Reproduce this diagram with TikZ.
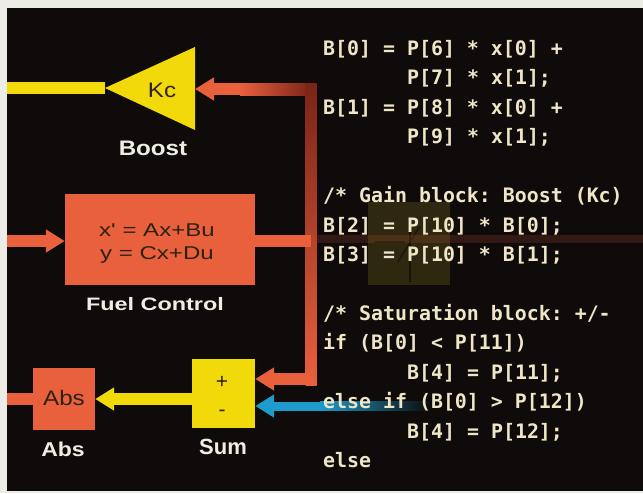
\documentclass[tikz,border=0pt]{standalone}
\usepackage{fontspec}
\setmainfont{Liberation Sans}
\newfontfamily\codefont{DejaVu Sans Mono}
\newfontfamily\wideA[FakeStretch=1.15]{Liberation Sans}
\newfontfamily\wideB[FakeStretch=1.3]{Liberation Sans}
\usetikzlibrary{arrows.meta}
\definecolor{paper}{HTML}{ECEDE6}
\definecolor{bgc}{HTML}{0E0B0A}
\definecolor{yel}{HTML}{F2DA0A}
\definecolor{org}{HTML}{E9603D}
\definecolor{dred}{HTML}{7A2418}
\definecolor{blu}{HTML}{1E9ACB}
\definecolor{codec}{HTML}{EEE6C6}
\definecolor{labc}{HTML}{EFEEE4}
\definecolor{dtext}{HTML}{2B2212}
\definecolor{ghost}{HTML}{2E2810}
\tikzset{
  codeline/.style={anchor=base west, inner sep=0pt, text=codec,
    font=\codefont\bfseries\fontsize{19.9}{24}\selectfont\frenchspacing},
  lab/.style={anchor=base, inner sep=0pt, text=labc},
  intext/.style={anchor=base, inner sep=0pt, text=dtext},
  oline/.style={draw=org, line width=12pt},
  yline/.style={draw=yel, line width=12pt},
  bline/.style={draw=blu, line width=9pt},
  tip/.style={-{Triangle[length=19pt,width=22pt]}},
}
\begin{document}
\begin{tikzpicture}[x=1pt,y=-1pt]
\useasboundingbox (0,0) rectangle (643,493);
\fill[paper] (0,0) rectangle (643,493);
\fill[bgc] (7,8) rectangle (643,491);

% ghost saturation block (faint, behind text)
\fill[ghost] (368,202) rectangle (450,285);
\draw[bgc!70!ghost, line width=1.2pt] (375,242) -- (405,242);
\draw[bgc!70!ghost, line width=1.2pt] (410,228) -- (410,282);
\draw[bgc!70!ghost, line width=1.2pt] (398,262) -- (420,226);
\fill[org, opacity=0.16] (316,235) rectangle (643,243);

% coordinates
\coordinate (leftK) at (7,88);
\coordinate (leftF) at (7,241);
\coordinate (leftA) at (7,399);
\coordinate (vtop) at (311,89);
\coordinate (vmid) at (311,241);
\coordinate (vbot) at (311,379);
\coordinate (bstart) at (330,406);

% blocks
\fill[yel] (195,47) -- (195,130) -- (105,88) -- cycle;
\coordinate (kctip) at (105,88);
\coordinate (kcin) at (195,89);
\node[intext, font=\wideA\fontsize{21}{24}\selectfont] (kc) at (162,97) {Kc};
\node[lab, font=\wideA\bfseries\fontsize{21}{24}\selectfont] (boost) at (153,155) {Boost};

\node[fill=org, minimum width=190pt, minimum height=91pt, inner sep=0pt] (fuel) at (160,239.5) {};
\node[intext, font=\wideB\fontsize{18.5}{22}\selectfont] (eq1) at (157,236) {x' = Ax+Bu};
\node[intext, font=\wideB\fontsize{18.5}{22}\selectfont] (eq2) at (157,259) {y = Cx+Du};
\node[lab, font=\wideB\bfseries\fontsize{18}{22}\selectfont] (fuellab) at (155,310) {Fuel Control};

\node[fill=yel, minimum width=63pt, minimum height=69pt, inner sep=0pt] (sum) at (223.5,393.5) {};
\node[intext, font=\fontsize{21}{24}\selectfont] (plus) at (222,388) {+};
\node[intext, font=\fontsize{21}{24}\selectfont] (minus) at (222,416) {-};
\node[lab, font=\bfseries\fontsize{22}{24}\selectfont] (sumlab) at (223,454) {Sum};

\node[fill=org, minimum width=62pt, minimum height=62pt, inner sep=0pt] (abs) at (64,399) {};
\node[intext, font=\wideA\fontsize{21}{24}\selectfont] (abstext) at (64,405) {Abs};
\node[lab, font=\wideA\bfseries\fontsize{20}{24}\selectfont] (abslab) at (63,456) {Abs};

% connectors
\draw[yline] (kctip) -- (leftK);
\draw[oline, tip] (vtop) -- (kcin);
\shade[left color=org, right color=dred] (240,83) rectangle (311,95);
\shade[top color=dred, bottom color=org] (305.5,83) rectangle (316.5,385);
\draw[oline, tip] (leftF) -- (fuel.west |- leftF);
\draw[oline] (fuel.east |- vmid) -- (vmid);
\draw[oline, tip] (vbot) -- (sum.east |- vbot);
\draw[bline, tip] (bstart) -- (sum.east |- bstart);
\shade[left color=blu, right color=bgc] (320,401.5) rectangle (430,410.5);
\draw[yline, tip] (sum.west |- leftA) -- (abs.east |- leftA);
\draw[oline] (leftA) -- (abs.west |- leftA);

% code
\node[codeline] (c1) at (323,55) {B[0] = P[6] * x[0] +};
\node[codeline] (c2) at (323,84.5) {\hspace*{84pt}P[7] * x[1];};
\node[codeline] (c3) at (323,114) {B[1] = P[8] * x[0] +};
\node[codeline] (c4) at (323,143.5) {\hspace*{84pt}P[9] * x[1];};
\node[codeline] (c5) at (323,202.5) {/* Gain block: Boost (Kc)};
\node[codeline] (c6) at (323,232) {B[2] = P[10] * B[0];};
\node[codeline] (c7) at (323,261.5) {B[3] = P[10] * B[1];};
\node[codeline] (c8) at (323,320) {/* Saturation block: +/-};
\node[codeline] (c9) at (323,349.5) {if (B[0] < P[11])};
\node[codeline] (c10) at (323,379) {\hspace*{84pt}B[4] = P[11];};
\node[codeline] (c11) at (323,408.5) {else if (B[0] > P[12])};
\node[codeline] (c12) at (323,438) {\hspace*{84pt}B[4] = P[12];};
\node[codeline] (c13) at (323,467.5) {else};
\end{tikzpicture}
\end{document}
